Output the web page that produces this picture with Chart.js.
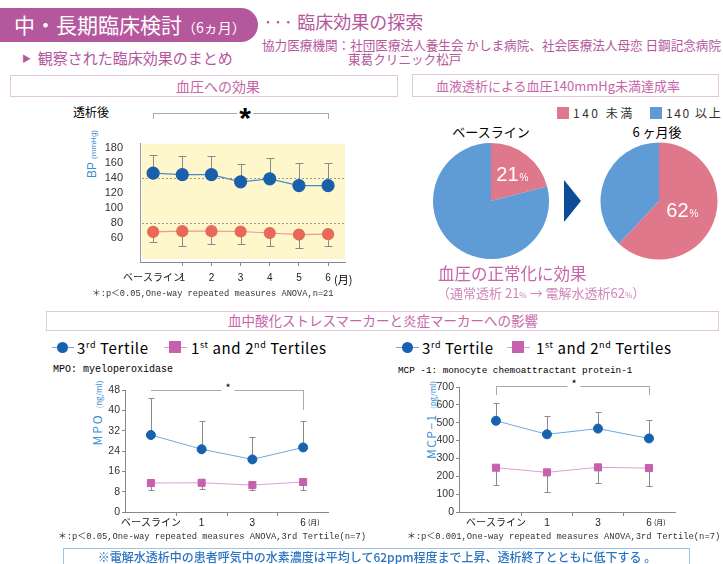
<!DOCTYPE html>
<html>
<head>
<meta charset="utf-8">
<script src="https://cdn.jsdelivr.net/npm/chart.js@4.4.1/dist/chart.umd.min.js"></script>
<style>
body{margin:0;width:723px;height:564px;position:relative;overflow:hidden;background:#fff;font-family:'Noto Sans CJK JP',sans-serif}
.a{position:absolute;white-space:nowrap;line-height:1}
.box{position:absolute;border:1px solid #e4c6da;box-sizing:border-box}
.mag{color:#b4579d}
.pk{color:#c765a8}
.mono{font-family:'Liberation Mono','Noto Sans CJK JP',monospace}
.rot{transform:translate(-50%,-50%) rotate(-90deg);color:#3d8fcf}
.brk{position:absolute;border:1px solid #aaa;border-bottom:none;box-sizing:border-box}
.sq{position:absolute;width:12px;height:12px}
.lg{font-size:15px;letter-spacing:0.6px}
</style>
</head>
<body>

<!-- header -->
<div class="a" style="left:0;top:8px;width:258px;height:34px;background:#b4579d;border-radius:0 17px 17px 0"></div>
<div class="a" style="left:14px;top:14px;color:#fff;font-size:21px">中・長期臨床検討<span style="font-size:14px">（6ヵ月）</span></div>
<div class="a mag" style="left:263px;top:12px;font-size:18px">··· 臨床効果の探索</div>
<div class="a mag" style="left:262px;top:39px;font-size:12.6px">協力医療機関：社団医療法人養生会 かしま病院、社会医療法人母恋 日鋼記念病院</div>
<div class="a mag" style="left:348px;top:53px;font-size:12.6px">東葛クリニック松戸</div>
<div class="a mag" style="left:22px;top:50px;font-size:15px"><span style="font-size:9px;vertical-align:2px">▶</span>&nbsp; 観察された臨床効果のまとめ</div>

<!-- section boxes -->
<div class="box" style="left:10px;top:75px;width:388px;height:22px"></div>
<div class="a pk" style="left:218px;top:79px;font-size:14px;transform:translateX(-50%)">血圧への効果</div>
<div class="box" style="left:412px;top:74px;width:307px;height:23px"></div>
<div class="a pk" style="left:558px;top:79px;font-size:13px;transform:translateX(-50%)">血液透析による血圧140mmHg未満達成率</div>
<div class="box" style="left:46px;top:311px;width:673px;height:20px"></div>
<div class="a pk" style="left:383px;top:314px;font-size:13.5px;transform:translateX(-50%)">血中酸化ストレスマーカーと炎症マーカーへの影響</div>

<!-- BP panel -->
<div class="a" style="left:73px;top:106px;font-size:12px">透析後</div>
<div class="brk" style="left:153px;top:113px;width:176px;height:6px"></div>
<div class="a" style="left:245px;top:103px;font-size:30px;font-weight:bold;transform:translateX(-50%);background:#fff;padding:0 2px;font-family:'Liberation Sans'">*</div>
<div class="a rot" style="left:92px;top:154px;font-size:12px;font-family:'Liberation Sans'">BP <span style="font-size:8px">(mmHg)</span></div>
<canvas id="bp" class="a" width="300" height="175" style="left:60px;top:120px"></canvas>
<div class="a" style="left:334px;top:274px;font-size:11px">(月)</div>
<div class="a mono" style="left:92px;top:290px;font-size:8.7px;color:#333">＊:p＜0.05,One-way repeated measures ANOVA,n=21</div>

<!-- pies -->
<div class="sq" style="left:557px;top:107px;background:#e0788c"></div>
<div class="a" style="left:573px;top:107px;font-size:12px;letter-spacing:2.5px;color:#333">140 未満</div>
<div class="sq" style="left:650px;top:107px;background:#5f9bd4"></div>
<div class="a" style="left:666px;top:107px;font-size:12px;letter-spacing:1.6px;color:#333">140 以上</div>
<div class="a" style="left:491px;top:125px;font-size:13px;transform:translateX(-50%)">ベースライン</div>
<div class="a" style="left:657px;top:125px;font-size:13px;transform:translateX(-50%)">6 ヶ月後</div>
<canvas id="pie0" class="a" width="120" height="120" style="left:431px;top:141px"></canvas>
<canvas id="pie6" class="a" width="120" height="120" style="left:599px;top:141px"></canvas>
<div class="a" style="left:564px;top:180px;width:0;height:0;border-left:17px solid #0d4c97;border-top:21px solid transparent;border-bottom:21px solid transparent"></div>
<div class="a pk" style="left:438px;top:265px;font-size:16.5px">血圧の正常化に効果</div>
<div class="a" style="left:437px;top:286px;font-size:13px;color:#cf86bb">（通常透析 21<span style="font-size:8px">%</span> → 電解水透析62<span style="font-size:8px">%</span>）</div>

<!-- MPO panel -->
<div class="a" style="left:52px;top:347px;width:22px;height:1px;background:#6fa8dc"></div>
<div class="a" style="left:57px;top:342px;width:11px;height:11px;border-radius:50%;background:#1661b0"></div>
<div class="a lg" style="left:77px;top:340px">3<sup style="font-size:9px">rd</sup> Tertile</div>
<div class="a" style="left:164px;top:347px;width:23px;height:1px;background:#dfa0d0"></div>
<div class="a" style="left:169px;top:341px;width:12px;height:12px;background:#c561ae"></div>
<div class="a lg" style="left:191px;top:340px">1<sup style="font-size:9px">st</sup> and 2<sup style="font-size:9px">nd</sup> Tertiles</div>
<div class="a mono" style="left:53px;top:365px;font-size:10px">MPO: myeloperoxidase</div>
<div class="brk" style="left:151px;top:390px;width:153px;height:20px;border-left:none"></div>
<div class="a" style="left:228px;top:382px;font-size:11px;transform:translateX(-50%);background:#fff;padding:0 4px">*</div>
<div class="a rot" style="left:97px;top:413px;font-size:12px;letter-spacing:2px">MPO <span style="font-size:8px;letter-spacing:0">(ng/ml)</span></div>
<canvas id="mpo" class="a" width="300" height="150" style="left:40px;top:380px"></canvas>
<div class="a" style="left:308px;top:519px;font-size:7px">(月)</div>
<div class="a mono" style="left:58px;top:533px;font-size:8.8px;color:#333">＊:p＜0.05,One-way repeated measures ANOVA,3rd Tertile(n=7)</div>

<!-- MCP panel -->
<div class="a" style="left:396px;top:347px;width:23px;height:1px;background:#6fa8dc"></div>
<div class="a" style="left:402px;top:342px;width:11px;height:11px;border-radius:50%;background:#1661b0"></div>
<div class="a lg" style="left:422px;top:340px">3<sup style="font-size:9px">rd</sup> Tertile</div>
<div class="a" style="left:507px;top:347px;width:23px;height:1px;background:#dfa0d0"></div>
<div class="a" style="left:512px;top:341px;width:12px;height:12px;background:#c561ae"></div>
<div class="a lg" style="left:536px;top:340px">1<sup style="font-size:9px">st</sup> and 2<sup style="font-size:9px">nd</sup> Tertiles</div>
<div class="a mono" style="left:398px;top:366px;font-size:9.3px">MCP -1: monocyte chemoattractant protein-1</div>
<div class="brk" style="left:496px;top:386px;width:154px;height:9px"></div>
<div class="a" style="left:574px;top:378px;font-size:11px;transform:translateX(-50%);background:#fff;padding:0 4px">*</div>
<div class="a rot" style="left:431px;top:420px;font-size:12px;letter-spacing:1.5px">MCP−1 <span style="font-size:8px;letter-spacing:0">(pg/ml)</span></div>
<canvas id="mcp" class="a" width="310" height="152" style="left:380px;top:378px"></canvas>
<div class="a" style="left:654px;top:519px;font-size:7px">(月)</div>
<div class="a mono" style="left:407px;top:533px;font-size:8.8px;color:#333">＊:p＜0.001,One-way repeated measures ANOVA,3rd Tertile(n=7)</div>

<!-- bottom note -->
<div class="box" style="left:63px;top:548px;width:627px;height:24px;border-color:#9cc3e6"></div>
<div class="a" style="left:377px;top:551px;font-size:12px;font-weight:500;color:#2a74c0;transform:translateX(-50%)">※電解水透析中の患者呼気中の水素濃度は平均して62ppm程度まで上昇、透析終了とともに低下する 。</div>

<script>
// ---- data ----
var bpMonths = ['ベースライン', '1', '2', '3', '4', '5', '6'];
var bpSys = [146.5, 144.5, 144.5, 135, 139, 130, 130];
var bpSysUpper = [171, 169, 169, 159, 167, 160, 160];
var bpDia = [68.5, 69.5, 69.5, 69, 67, 65, 65.5];
var bpDiaLower = [54.5, 49.5, 53, 53, 49.5, 47, 49.5];
var bpRefLines = [140, 80];
var bpTicks = [60, 80, 100, 120, 140, 160, 180];

var pieLabels = ['140 未満', '140 以上'];
var pieBase = [21, 79];
var pie6m = [62, 38];

var markerMonths = ['ベースライン', '1', '3', '6'];
var mpoTop = [30.3, 24.7, 20.7, 25.4];
var mpoTopUpper = [45, 35.8, 29.7, 35.8];
var mpoLow = [11.4, 11.5, 10.6, 11.8];
var mpoLowLower = [8.8, 9, 8.8, 8.6];
var mcpTop = [511, 435, 467, 412];
var mcpTopUpper = [610, 537, 558, 515];
var mcpLow = [248, 222, 250, 246];
var mcpLowLower = [153, 112, 162, 144];

var tickFont = {family: "'Liberation Sans','Noto Sans CJK JP'", size: 11};

function pts(arr) {
  return arr.map(function(v, i) { return {x: i, y: v}; });
}

// error bars, drawn under the markers
var errorBars = {
  id: 'errorBars',
  beforeDatasetsDraw: function(chart, args, opts) {
    var ctx = chart.ctx;
    var ys = chart.scales.y;
    chart.data.datasets.forEach(function(ds, i) {
      if (!ds.errTo) return;
      var meta = chart.getDatasetMeta(i);
      ctx.save();
      ctx.strokeStyle = '#8a8a8a';
      ctx.lineWidth = 1;
      meta.data.forEach(function(p, j) {
        var y2 = Math.round(ys.getPixelForValue(ds.errTo[j])) + 0.5;
        var x = Math.round(p.x) + 0.5;
        ctx.beginPath();
        ctx.moveTo(x, p.y); ctx.lineTo(x, y2);
        ctx.moveTo(x - opts.cap, y2); ctx.lineTo(x + opts.cap, y2);
        ctx.stroke();
      });
      ctx.restore();
    });
  }
};

// yellow plot background + dotted reference lines (BP)
var bpBack = {
  id: 'bpBack',
  beforeDraw: function(chart, args, opts) {
    var a = chart.chartArea, ctx = chart.ctx;
    ctx.save();
    ctx.fillStyle = '#fdf7cb';
    ctx.fillRect(a.left + 2, a.top, a.right - a.left - 2, a.bottom - a.top - 3);
    ctx.restore();
  },
  beforeDatasetsDraw: function(chart, args, opts) {
    var a = chart.chartArea, ctx = chart.ctx;
    ctx.save();
    ctx.strokeStyle = '#999';
    ctx.setLineDash([2, 2]);
    opts.lines.forEach(function(v) {
      var y = Math.round(chart.scales.y.getPixelForValue(v)) + 0.5;
      ctx.beginPath(); ctx.moveTo(a.left + 2, y); ctx.lineTo(a.right, y); ctx.stroke();
    });
    ctx.restore();
  }
};

function xAxis(labels, min, max, height, markFn, pad, size) {
  return {
    type: 'linear', min: min, max: max,
    afterBuildTicks: function(s) {
      var t = [];
      for (var v = 0; v <= labels.length - 1; v += 0.5) t.push({value: v});
      s.ticks = t;
    },
    afterFit: function(s) { s.height = height; },
    border: {color: '#888'},
    grid: {drawOnChartArea: false, tickLength: 4, color: function(c) {
      return c.tick && markFn(c.tick.value) ? '#888' : 'rgba(0,0,0,0)';
    }},
    ticks: {autoSkip: false, maxRotation: 0, padding: pad, color: '#222',
      font: {family: tickFont.family, size: size},
      callback: function(v) { return v % 1 === 0 ? labels[v] : ''; }}
  };
}

// ---- BP chart ----
new Chart(document.getElementById('bp'), {
  type: 'line',
  data: {
    datasets: [
      {data: pts(bpSys), errTo: bpSysUpper, borderColor: '#4f8ac8', borderWidth: 1.2,
       pointBackgroundColor: '#1a5fab', pointBorderColor: '#1a5fab', pointRadius: 6},
      {data: pts(bpDia), errTo: bpDiaLower, borderColor: '#f09890', borderWidth: 1.2,
       pointBackgroundColor: '#e8685a', pointBorderColor: '#e8685a', pointRadius: 5.5}
    ]
  },
  options: {
    responsive: false, animation: false,
    layout: {padding: {top: 7, right: 15, left: 0, bottom: 0}},
    plugins: {legend: {display: false}, tooltip: {enabled: false},
      errorBars: {cap: 4}, bpBack: {lines: bpRefLines}},
    scales: {
      x: xAxis(bpMonths, -0.45, 6.58, 33, function(v) { return v > 0 && v % 1 === 0; }, 6, 10),
      y: {
        min: 28.5, max: 185.8,
        afterBuildTicks: function(s) { s.ticks = bpTicks.map(function(v) { return {value: v}; }); },
        afterFit: function(s) { s.width = 80; },
        border: {color: '#999'},
        grid: {display: false, drawTicks: false},
        ticks: {padding: 17, color: '#333', font: tickFont}
      }
    }
  },
  plugins: [errorBars, bpBack]
});

// ---- pies ----
var sliceLabel = {
  id: 'sliceLabel',
  afterDatasetsDraw: function(chart, args, o) {
    var arc = chart.getDatasetMeta(0).data[0];
    var mid = (arc.startAngle + arc.endAngle) / 2;
    var r = arc.outerRadius * o.factor;
    var x = arc.x + Math.cos(mid) * r, y = arc.y + Math.sin(mid) * r;
    var num = String(chart.data.datasets[0].data[0]);
    var ctx = chart.ctx;
    ctx.save();
    ctx.fillStyle = '#fff';
    ctx.textBaseline = 'alphabetic';
    ctx.font = "20px 'Liberation Sans'";
    var w1 = ctx.measureText(num).width;
    ctx.font = "10px 'Liberation Sans'";
    var w2 = ctx.measureText('%').width;
    var x0 = x - (w1 + w2 + 1) / 2;
    ctx.font = "20px 'Liberation Sans'";
    ctx.fillText(num, x0, y + 7);
    ctx.font = "10px 'Liberation Sans'";
    ctx.fillText('%', x0 + w1 + 1, y + 7);
    ctx.restore();
  }
};

function pie(id, values, factor, pad) {
  new Chart(document.getElementById(id), {
    type: 'pie',
    data: {labels: pieLabels, datasets: [{data: values, backgroundColor: ['#e0788c', '#5f9bd4'], borderWidth: 0}]},
    options: {
      responsive: false, animation: false,
      layout: {padding: pad},
      plugins: {legend: {display: false}, tooltip: {enabled: false}, sliceLabel: {factor: factor}}
    },
    plugins: [sliceLabel]
  });
}
pie('pie0', pieBase, 0.6, 2);
pie('pie6', pie6m, 0.43, 1.5);

// ---- MPO / MCP ----
var markerTickFont = {family: tickFont.family, size: 10.5};

function markerChart(id, top, topUp, low, lowDown, yMax, step, xmin, xmax, yWidth, padR, padT) {
  new Chart(document.getElementById(id), {
    type: 'line',
    data: {
      datasets: [
        {data: pts(top), errTo: topUp, borderColor: '#6fa8dc', borderWidth: 1,
         pointBackgroundColor: '#1661b0', pointBorderColor: '#1661b0', pointRadius: 4.5},
        {data: pts(low), errTo: lowDown, borderColor: '#dfa0d0', borderWidth: 1, pointStyle: 'rect',
         pointBackgroundColor: '#c561ae', pointBorderColor: '#c561ae', pointRadius: 5}
      ]
    },
    options: {
      responsive: false, animation: false,
      layout: {padding: {top: padT, right: padR, left: 0, bottom: 0}},
      plugins: {legend: {display: false}, tooltip: {enabled: false}, errorBars: {cap: 3}},
      scales: {
        x: xAxis(markerMonths, xmin, xmax, 18, function(v) { return v % 1 !== 0; }, 1, 10),
        y: {
          min: 0, max: yMax,
          afterFit: function(s) { s.width = yWidth; },
          border: {color: '#888'},
          grid: {drawOnChartArea: false, tickLength: 3, color: '#888'},
          ticks: {stepSize: step, padding: 2, color: '#333', font: markerTickFont}
        }
      }
    },
    plugins: [errorBars]
  });
}
markerChart('mpo', mpoTop, mpoTopUpper, mpoLow, mpoLowLower, 48, 8, -0.51, 3.49, 85, 12, 10);
markerChart('mcp', mcpTop, mcpTopUpper, mcpLow, mcpLowLower, 700, 100, -0.725, 3.51, 79, 15, 9);
</script>
</body>
</html>
